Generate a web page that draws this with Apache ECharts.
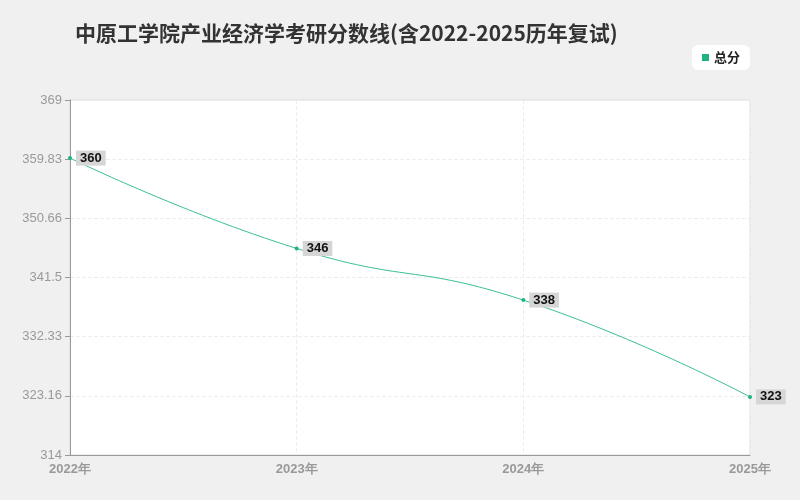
<!DOCTYPE html><html><head><meta charset="utf-8"><script src="https://cdn.jsdelivr.net/npm/echarts@6/dist/echarts.min.js"></script>
<style>body{margin:0;background:#f0f0f0}#c{width:800px;height:500px}</style></head><body><div id="c"></div><script>
const categories=['2022年','2023年','2024年','2025年'];
const values=[360,346,338,323];
const ch=echarts.init(document.getElementById('c'));
ch.setOption({
 backgroundColor:'#f0f0f0',
 title:{text:'中原工学院产业经济学考研分数线(含2022-2025历年复试)',left:70,top:18,textStyle:{fontSize:21,fontWeight:'bold',color:'#333',fontFamily:'Noto Sans CJK SC'}},
 legend:{right:50,top:45,backgroundColor:'#fff',borderRadius:6,padding:[6,10],itemWidth:7,itemHeight:7,icon:'rect',data:['总分'],textStyle:{fontSize:13,fontWeight:'bold',color:'#222',fontFamily:'Noto Sans CJK SC'}},
 grid:{left:70,right:50,top:100,bottom:45,show:true,backgroundColor:'#fff',borderColor:'#ddd'},
 xAxis:{type:'category',data:categories,boundaryGap:false,axisLine:{lineStyle:{color:'#999'}},axisTick:{show:false},axisLabel:{color:'#999',fontSize:13,fontWeight:'bold'},splitLine:{show:true,lineStyle:{type:'dashed',color:'#eee'}}},
 yAxis:{type:'value',min:314,max:369,interval:55/6,axisLine:{show:true,lineStyle:{color:'#999'}},axisTick:{show:true},axisLabel:{color:'#999',fontSize:13,formatter:v=>String(Math.floor(v*100+1e-6)/100)},splitLine:{lineStyle:{type:'dashed',color:'#eee'}}},
 series:[{name:'总分',type:'line',smooth:true,data:values,symbol:'circle',symbolSize:4,itemStyle:{color:'#1fb37e'},lineStyle:{width:1,color:'#3cbf94'},
  label:{show:true,position:'right',distance:4,backgroundColor:'#d6d6d6',padding:[1,4],color:'#111',fontWeight:'bold',fontSize:13}}]
});
</script></body></html>
